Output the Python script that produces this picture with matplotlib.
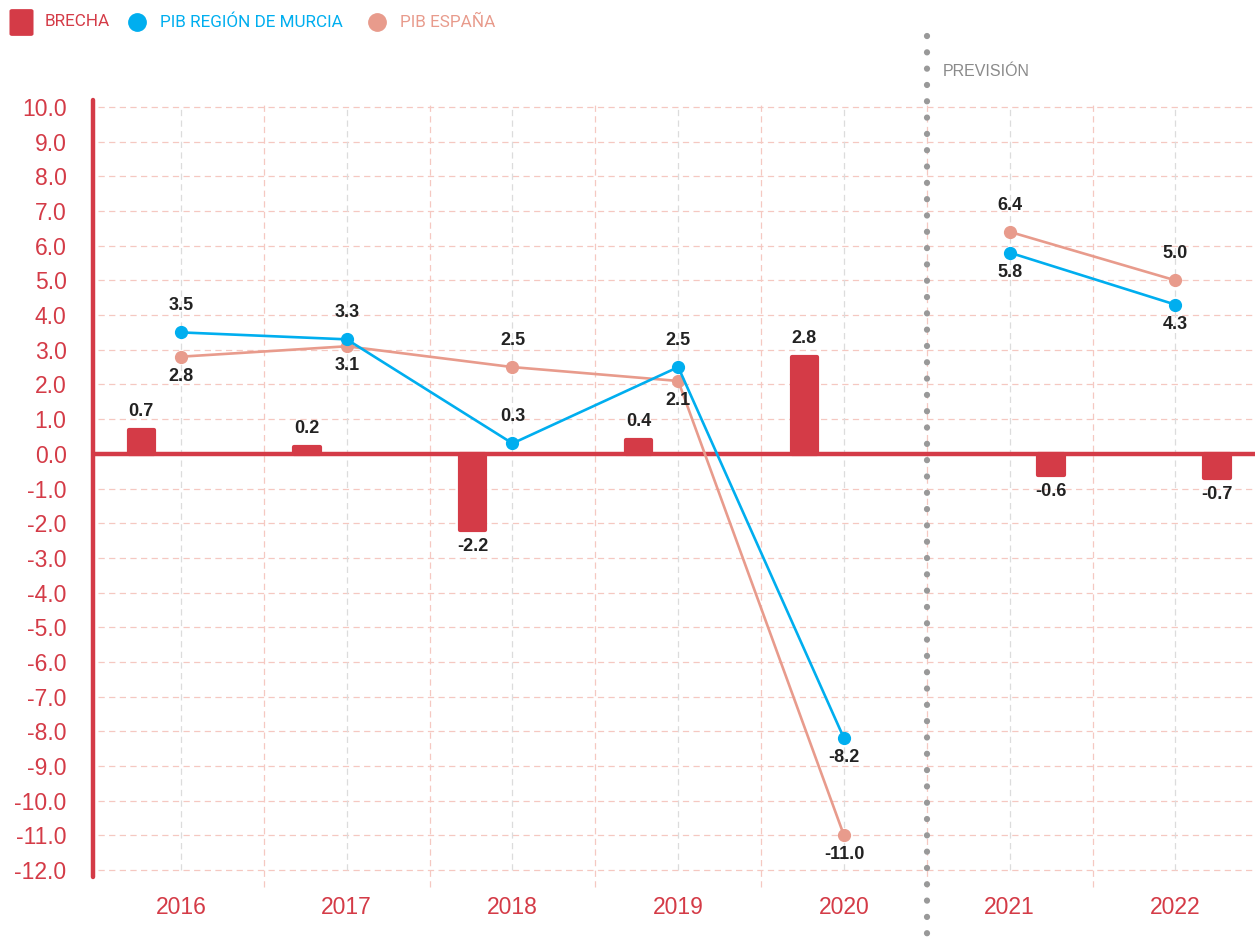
import matplotlib
matplotlib.use("Agg")
import matplotlib.pyplot as plt
from matplotlib.lines import Line2D
from matplotlib.patches import FancyBboxPatch
import numpy as np

# ---- data ----
years = ["2016", "2017", "2018", "2019", "2020", "2021", "2022"]
brecha = [0.7, 0.2, -2.2, 0.4, 2.8, -0.6, -0.7]
pib_murcia = [3.5, 3.3, 0.3, 2.5, -8.2, 5.8, 4.3]
pib_espana = [2.8, 3.1, 2.5, 2.1, -11.0, 6.4, 5.0]
murcia_label_above = [True, True, True, True, False, False, False]
espana_label_above = [False, False, True, False, False, True, True]
yticks = np.arange(-12, 11, 1)

RED = "#d43b47"
BLUE = "#00aeef"
SALMON = "#e89b8c"
TXT = "#222222"
GRID_PINK = "#f5c8c1"
GRID_GREY = "#dcdcdc"
DOTS = "#999999"

plt.rcParams['font.family'] = ['Liberation Sans', 'DejaVu Sans']
LEG_FONT = ['Roboto', 'Liberation Sans', 'DejaVu Sans']

W, H = 1255, 939
fig = plt.figure(figsize=(W / 100, H / 100), dpi=100)
ax_left, ax_right, ax_top, ax_bot = 93, 1255, 100, 877
ax = fig.add_axes([ax_left / W, (H - ax_bot) / H, (ax_right - ax_left) / W, (ax_bot - ax_top) / H])

x = np.arange(len(years))
ax.set_xlim(-0.531, 6.48)
ax.set_ylim(-12.2, 10.2)

# grid
for yv in yticks:
    ax.plot([-0.5, 6.48], [yv, yv], color=GRID_PINK, lw=0.9, ls=(0, (5, 3.5)), zorder=0, clip_on=False)
for xi in x:
    ax.plot([xi, xi], [-12, 10], color=GRID_GREY, lw=0.9, ls=(0, (5, 3.5)), zorder=0)
for xb in np.arange(0.5, len(years), 1.0):
    ax.plot([xb, xb], [-12.5, 10.1], color=GRID_PINK, lw=0.9, ls=(0, (5, 3.5)), zorder=0, clip_on=False)

# bars
offsets = np.array([-0.24] * 5 + [0.25] * 2)
bx = x + offsets
ax.bar(bx, brecha, width=0.153, color=RED, edgecolor=RED, linewidth=3.0, joinstyle='round', zorder=2)
for xi, v in zip(bx, brecha):
    if v >= 0:
        ax.annotate(f"{v:.1f}", (xi, v), xytext=(0, 10), textcoords='offset points',
                    ha='center', va='baseline', fontsize=13, fontweight='bold', color=TXT)
    else:
        ax.annotate(f"{v:.1f}", (xi, v), xytext=(0, -6), textcoords='offset points',
                    ha='center', va='top', fontsize=13, fontweight='bold', color=TXT)

# zero line
ax.axhline(0, color=RED, lw=3.2, zorder=2.5)

# lines
for vals, col, above in [(pib_espana, SALMON, espana_label_above), (pib_murcia, BLUE, murcia_label_above)]:
    ax.plot(x[:5], vals[:5], color=col, lw=1.9, marker='o', ms=8.5, zorder=3)
    ax.plot(x[5:], vals[5:], color=col, lw=1.9, marker='o', ms=8.5, zorder=3)
    for xi, v, ab in zip(x, vals, above):
        if ab:
            ax.annotate(f"{v:.1f}", (xi, v), xytext=(0, 16), textcoords='offset points',
                        ha='center', va='baseline', fontsize=13, fontweight='bold', color=TXT, zorder=5)
        else:
            ax.annotate(f"{v:.1f}", (xi, v), xytext=(0, -8), textcoords='offset points',
                        ha='center', va='top', fontsize=13, fontweight='bold', color=TXT, zorder=5)

# axes styling
for s in ['top', 'right', 'bottom']:
    ax.spines[s].set_visible(False)
ax.spines['left'].set_color(RED)
ax.spines['left'].set_linewidth(3.2)
ax.spines['left'].set_capstyle('round')
ax.set_yticks(yticks)
ax.set_yticklabels([f"{v:.1f}" for v in yticks], color=RED, fontsize=16.5)
ax.tick_params(axis='y', length=0, pad=19)
ax.set_xticks(x)
ax.set_xticklabels(years, color=RED, fontsize=16.5)
ax.tick_params(axis='x', length=0, pad=14)
ax.set_facecolor('none')

# previsión separator (dotted)
sep_x = ax.transData.transform((4.5, 0))[0] / W
ln = Line2D([sep_x, sep_x], [1 - 36 / H, 0], transform=fig.transFigure, color=DOTS, lw=4.5,
            dashes=(0.01, 11.7 / 4.5), dash_capstyle='round', zorder=6)
fig.add_artist(ln)
fig.text(943 / W, 1 - 71 / H, "PREVISIÓN", color="#8a8a8a", fontsize=11.5, va='center', ha='left')

# legend
fig.add_artist(FancyBboxPatch((12 / W, 1 - 34 / H), 19 / W, 23 / H, boxstyle="round,pad=0.002",
                              transform=fig.transFigure, facecolor=RED, edgecolor='none'))
fig.text(45 / W, 1 - 22 / H, "BRECHA", color=RED, fontsize=12.3, va='center', ha='left', family=LEG_FONT)
fig.add_artist(Line2D([137 / W], [1 - 22 / H], transform=fig.transFigure, marker='o', ms=12.5,
                      color=BLUE, ls='none'))
fig.text(160 / W, 1 - 22 / H, "PIB REGIÓN DE MURCIA", color=BLUE, fontsize=12.3, va='center', ha='left',
         family=LEG_FONT)
fig.add_artist(Line2D([377 / W], [1 - 22 / H], transform=fig.transFigure, marker='o', ms=12.5,
                      color=SALMON, ls='none'))
fig.text(400 / W, 1 - 22 / H, "PIB ESPAÑA", color=SALMON, fontsize=12.3, va='center', ha='left',
         family=LEG_FONT)

fig.savefig("out.png", dpi=100)
